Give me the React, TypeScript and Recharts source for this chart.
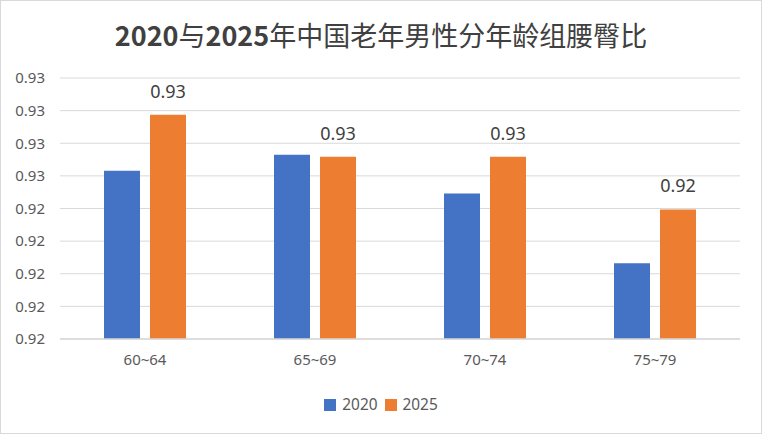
import { BarChart, Bar, XAxis, YAxis, CartesianGrid, LabelList } from 'recharts';

const title = '2020与2025年中国老年男性分年龄组腰臀比';

const ageGroups = ['60~64', '65~69', '70~74', '75~79'];
const seriesNames = ['2020', '2025'];
const values2020 = [0.92616, 0.92665, 0.92546, 0.92332];
const values2025 = [0.92787, 0.92659, 0.92659, 0.92497];

const yTicks = [0.921, 0.922, 0.923, 0.924, 0.925, 0.926, 0.927, 0.928, 0.929];
const yTickLabels = ['0.92', '0.92', '0.92', '0.92', '0.92', '0.93', '0.93', '0.93', '0.93'];

const colors = ['#4472C4', '#ED7D31'];
const font = '"Noto Sans", "Noto Sans CJK SC", sans-serif';

const data = ageGroups.map((g, i) => ({ group: g, y2020: values2020[i], y2025: values2025[i] }));

// digits in bold, CJK in regular weight, like the original title
const TitleText = () => (
  <>
    {title.split(/(\d+)/).filter(Boolean).map((part, i) => (
      <span key={i} style={{ fontWeight: /\d/.test(part) ? 700 : 400 }}>{part}</span>
    ))}
  </>
);

export default function App() {
  return (
    <div style={{ position: 'absolute', left: 0, top: 0, width: 762, height: 434, background: '#fff', fontFamily: font }}>
      <BarChart
        width={762}
        height={434}
        data={data}
        margin={{ top: 78, right: 22, left: 0, bottom: 65 }}
        barGap={10}
        barSize={36}
      >
        <CartesianGrid vertical={false} stroke="#d9d9d9" strokeWidth={1} />
        <XAxis
          dataKey="group"
          axisLine={{ stroke: '#d9d9d9', strokeWidth: 1.5 }}
          tickLine={false}
          tickMargin={9}
          tick={{ fill: '#595959', fontSize: 15, fontFamily: font }}
        />
        <YAxis
          domain={[0.921, 0.929]}
          ticks={yTicks}
          width={60}
          axisLine={false}
          tickLine={false}
          tickMargin={9}
          interval={0}
          tickFormatter={(_v: number, i: number) => yTickLabels[i]}
          tick={{ fill: '#595959', fontSize: 15, fontFamily: font }}
        />
        <Bar dataKey="y2020" fill={colors[0]} isAnimationActive={false} />
        <Bar dataKey="y2025" fill={colors[1]} isAnimationActive={false}>
          <LabelList
            dataKey="y2025"
            position="top"
            offset={17}
            formatter={(v: number) => v.toFixed(2)}
            style={{ fill: '#404040', fontSize: 18, fontFamily: font }}
          />
        </Bar>
      </BarChart>

      <div
        style={{
          position: 'absolute', left: 0, top: 17, width: 762, textAlign: 'center',
          fontSize: 27, color: '#404040', fontFamily: '"Noto Sans CJK SC", sans-serif', lineHeight: '36px',
        }}
      >
        <TitleText />
      </div>

      <div
        style={{
          position: 'absolute', left: 0, top: 395, width: 762, display: 'flex', justifyContent: 'center',
          alignItems: 'center', gap: 7, fontSize: 15.4, color: '#595959', lineHeight: '20px',
        }}
      >
        {seriesNames.map((name, i) => (
          <div key={name} style={{ display: 'flex', alignItems: 'center', gap: 6 }}>
            <span style={{ width: 12, height: 12, background: colors[i], display: 'inline-block' }} />
            <span>{name}</span>
          </div>
        ))}
      </div>

      <div style={{ position: 'absolute', left: 0, top: 0, width: 762, height: 434, boxSizing: 'border-box', border: '1px solid #d9d9d9', pointerEvents: 'none' }} />
    </div>
  );
}
